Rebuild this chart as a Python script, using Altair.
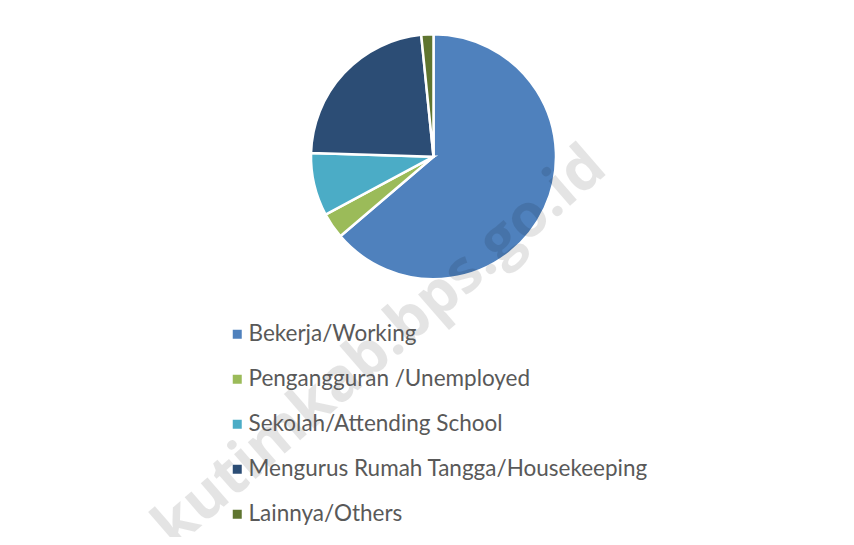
import altair as alt
import pandas as pd

categories = [
    "Bekerja/Working",
    "Pengangguran /Unemployed",
    "Sekolah/Attending School",
    "Mengurus Rumah Tangga/Housekeeping",
    "Lainnya/Others",
]
values = [63.7, 3.4, 8.3, 22.9, 1.6]
colors = ["#4F81BD", "#9BBB59", "#4BACC6", "#2C4D75", "#5F7530"]
watermark = "kutimkab.bps.go.id"

df = pd.DataFrame({"kategori": categories, "nilai": values, "urut": list(range(len(categories)))})

wm = alt.Chart(pd.DataFrame({"t": [watermark]})).mark_text(
    font="Open Sans",
    fontWeight="bold",
    fontSize=60,
    angle=319,
    color="black",
    opacity=0.1,
    align="center",
    baseline="middle",
).encode(
    text="t:N",
    x=alt.value(372),
    y=alt.value(339),
)

pie = alt.Chart(df).mark_arc(outerRadius=122.5, stroke="white", strokeWidth=2.5).encode(
    theta=alt.Theta("nilai:Q", stack=True),
    order=alt.Order("urut:Q"),
    color=alt.Color(
        "kategori:N",
        scale=alt.Scale(domain=categories, range=colors),
        sort=categories,
        legend=alt.Legend(
            title=None,
            orient="none",
            legendX=218,
            legendY=315,
            symbolType="square",
            symbolSize=81,
            symbolStrokeWidth=0,
            labelFont="Lato",
            labelFontSize=22.5,
            labelColor="#595959",
            labelLimit=600,
            labelOffset=0,
            rowPadding=22,
            padding=0,
        ),
    ),
    x=alt.value(425.5),
    y=alt.value(148.7),
)

chart = alt.layer(pie, wm).properties(
    width=838,
    height=529,
    padding=0,
    autosize=alt.AutoSizeParams(type="none"),
).configure_view(stroke=None)

chart.save("out.html", embed_options={"renderer": "svg", "actions": False})
